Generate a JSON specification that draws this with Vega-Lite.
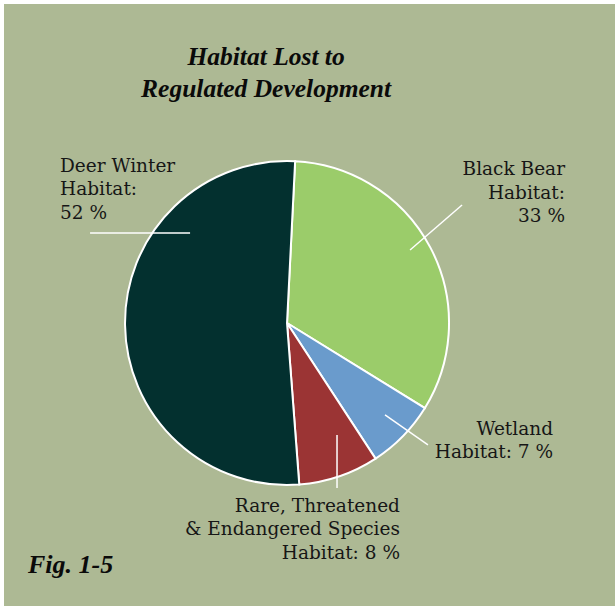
{
  "$schema": "https://vega.github.io/schema/vega-lite/v6.json",
  "width": 615,
  "height": 606,
  "autosize": {"type": "fit", "contains": "padding"},
  "padding": {"left": 4, "top": 4, "right": 0, "bottom": 0},
  "background": "#ffffff",
  "config": {"view": {"stroke": null, "fill": "#adb994"}},
  "datasets": {
    "slices": [
      {"habitat": "Black Bear Habitat", "pct": 33, "seq": 1},
      {"habitat": "Wetland Habitat", "pct": 7, "seq": 2},
      {"habitat": "Rare, Threatened & Endangered Species Habitat", "pct": 8, "seq": 3},
      {"habitat": "Deer Winter Habitat", "pct": 52, "seq": 4}
    ],
    "labels": [
      {"side": "left", "text": "Deer Winter\nHabitat:\n52 %", "x": -1.419, "y": 0.944},
      {"side": "right", "text": "Black Bear\nHabitat:\n33 %", "x": 1.7375, "y": 0.925},
      {"side": "right", "text": "Wetland\nHabitat: 7 %", "x": 1.6625, "y": -0.70},
      {"side": "right", "text": "Rare, Threatened\n& Endangered Species\nHabitat: 8 %", "x": 0.706, "y": -1.181}
    ],
    "leaders": [
      {"habitat": "Deer Winter Habitat", "x": -1.231, "y": 0.5625, "x2": -0.606, "y2": 0.5625},
      {"habitat": "Black Bear Habitat", "x": 0.769, "y": 0.456, "x2": 1.094, "y2": 0.7375},
      {"habitat": "Wetland Habitat", "x": 0.6125, "y": -0.575, "x2": 0.881, "y2": -0.7625},
      {"habitat": "Rare, Threatened & Endangered Species Habitat", "x": 0.3125, "y": -0.70, "x2": 0.3125, "y2": -1.03125}
    ],
    "titles": [
      {"text": "Habitat Lost to\nRegulated Development", "x": -0.131, "y": 1.6125}
    ],
    "figs": [
      {"text": "Fig. 1-5", "x": -1.619, "y": -1.5625}
    ]
  },
  "layer": [
    {
      "data": {"name": "slices"},
      "mark": {"type": "arc", "outerRadius": 162, "stroke": "#ffffff", "strokeWidth": 2},
      "encoding": {
        "x": {"datum": 0, "type": "quantitative", "scale": {"domain": [-1.769, 2.05], "nice": false, "zero": false}, "axis": null},
        "y": {"datum": 0, "type": "quantitative", "scale": {"domain": [-1.769, 1.994], "nice": false, "zero": false}, "axis": null},
        "theta": {"field": "pct", "type": "quantitative", "stack": true, "scale": {"range": [0.05, 6.3332]}},
        "order": {"field": "seq", "type": "quantitative"},
        "color": {
          "field": "habitat",
          "type": "nominal",
          "scale": {
            "domain": ["Black Bear Habitat", "Wetland Habitat", "Rare, Threatened & Endangered Species Habitat", "Deer Winter Habitat"],
            "range": ["#9bcc6a", "#6a9bcc", "#9b3434", "#03302f"]
          },
          "legend": null
        }
      }
    },
    {
      "data": {"name": "leaders"},
      "mark": {"type": "rule", "stroke": "#ffffff", "strokeWidth": 1.5},
      "encoding": {
        "x": {"field": "x", "type": "quantitative", "scale": {"domain": [-1.769, 2.05], "nice": false, "zero": false}, "axis": null},
        "y": {"field": "y", "type": "quantitative", "scale": {"domain": [-1.769, 1.994], "nice": false, "zero": false}, "axis": null},
        "x2": {"field": "x2"},
        "y2": {"field": "y2"}
      }
    },
    {
      "data": {"name": "labels"},
      "transform": [{"filter": "datum.side === 'left'"}],
      "mark": {"type": "text", "align": "left", "baseline": "alphabetic", "lineBreak": "\n", "lineHeight": 23.5, "font": "DejaVu Serif", "fontSize": 18.5, "color": "#161616"},
      "encoding": {
        "x": {"field": "x", "type": "quantitative", "scale": {"domain": [-1.769, 2.05], "nice": false, "zero": false}, "axis": null},
        "y": {"field": "y", "type": "quantitative", "scale": {"domain": [-1.769, 1.994], "nice": false, "zero": false}, "axis": null},
        "text": {"field": "text"}
      }
    },
    {
      "data": {"name": "labels"},
      "transform": [{"filter": "datum.side === 'right'"}],
      "mark": {"type": "text", "align": "right", "baseline": "alphabetic", "lineBreak": "\n", "lineHeight": 23.5, "font": "DejaVu Serif", "fontSize": 18.5, "color": "#161616"},
      "encoding": {
        "x": {"field": "x", "type": "quantitative", "scale": {"domain": [-1.769, 2.05], "nice": false, "zero": false}, "axis": null},
        "y": {"field": "y", "type": "quantitative", "scale": {"domain": [-1.769, 1.994], "nice": false, "zero": false}, "axis": null},
        "text": {"field": "text"}
      }
    },
    {
      "data": {"name": "titles"},
      "mark": {"type": "text", "align": "center", "baseline": "alphabetic", "lineBreak": "\n", "lineHeight": 31.5, "font": "Liberation Serif", "fontSize": 25.5, "fontWeight": "bold", "fontStyle": "italic", "color": "#0a0a0a"},
      "encoding": {
        "x": {"field": "x", "type": "quantitative", "scale": {"domain": [-1.769, 2.05], "nice": false, "zero": false}, "axis": null},
        "y": {"field": "y", "type": "quantitative", "scale": {"domain": [-1.769, 1.994], "nice": false, "zero": false}, "axis": null},
        "text": {"field": "text"}
      }
    },
    {
      "data": {"name": "figs"},
      "mark": {"type": "text", "align": "left", "baseline": "alphabetic", "font": "Liberation Serif", "fontSize": 26, "fontWeight": "bold", "fontStyle": "italic", "color": "#0a0a0a"},
      "encoding": {
        "x": {"field": "x", "type": "quantitative", "scale": {"domain": [-1.769, 2.05], "nice": false, "zero": false}, "axis": null},
        "y": {"field": "y", "type": "quantitative", "scale": {"domain": [-1.769, 1.994], "nice": false, "zero": false}, "axis": null},
        "text": {"field": "text"}
      }
    }
  ]
}
